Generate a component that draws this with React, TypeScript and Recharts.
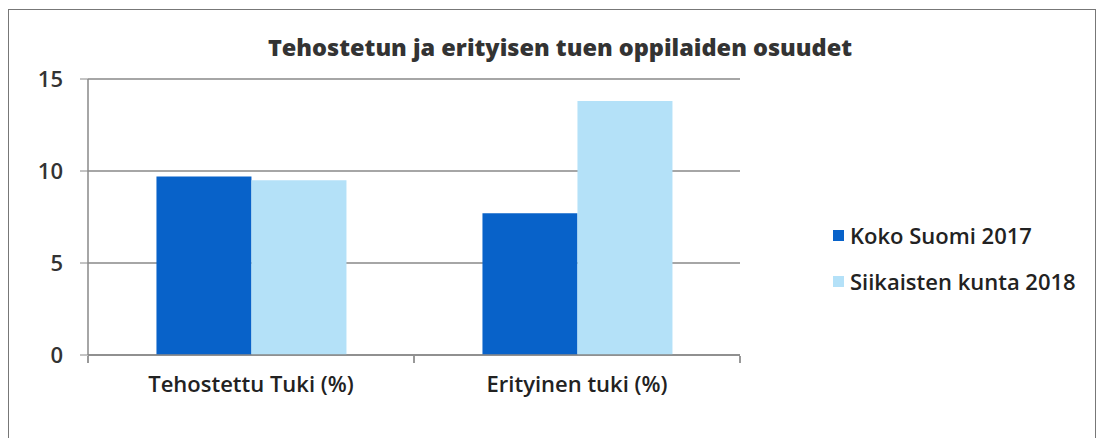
import React from 'react'
import { BarChart, Bar, XAxis, YAxis, CartesianGrid } from 'recharts'

const categories = ['Tehostettu Tuki (%)', 'Erityinen tuki (%)']
const kokoSuomi2017 = [9.7, 7.7]
const siikainen2018 = [9.5, 13.8]
const yTicks = [0, 5, 10, 15]

const seriesNames = ['Koko Suomi 2017', 'Siikaisten kunta 2018']
const colors = ['#0862c9', '#b4e1f8']

const data = categories.map((c, i) => ({
  name: c,
  koko: kokoSuomi2017[i],
  siik: siikainen2018[i],
}))

const font = '"Open Sans", sans-serif'

// category label, plus Excel-style tick marks on the band edges
function CatTick(props: any) {
  const { x, y, payload, index } = props
  const half = payload?.offset ?? 0
  const axisY = y - 20
  return (
    <g>
      <line x1={x - half} x2={x - half} y1={axisY} y2={axisY + 7} stroke="#777" strokeWidth={1.5} />
      {index === categories.length - 1 && (
        <line x1={x + half} x2={x + half} y1={axisY} y2={axisY + 7} stroke="#777" strokeWidth={1.5} />
      )}
      <text x={x} y={y} dy="0.71em" textAnchor="middle" fill="#222" fontSize={22} fontWeight={600} fontFamily={font}>
        {payload.value}
      </text>
    </g>
  )
}

function LegendBox() {
  return (
    <div style={{ position: 'absolute', left: 833, top: 212, fontFamily: font, fontSize: 22, fontWeight: 600, color: '#222' }}>
      {seriesNames.map((n, i) => (
        <div key={n} style={{ display: 'flex', alignItems: 'center', height: 46, whiteSpace: 'nowrap' }}>
          <span style={{ width: 11, height: 11, background: colors[i], marginRight: 6, display: 'inline-block' }} />
          {n}
        </div>
      ))}
    </div>
  )
}

export default function App() {
  return (
    <div style={{ position: 'absolute', left: 0, top: 0, width: 1103, height: 438, background: '#fff', overflow: 'hidden' }}>
      <div style={{ position: 'absolute', left: 8, top: 9, width: 1086, height: 460, border: '1.5px solid #777' }} />
      <div style={{ position: 'absolute', left: 0, width: 1120, top: 31, textAlign: 'center', fontFamily: font, fontWeight: 800, fontSize: 23.5, color: '#333' }}>
        Tehostetun ja erityisen tuen oppilaiden osuudet
      </div>
      <BarChart width={1103} height={438} data={data} margin={{ top: 79, right: 363, left: 0, bottom: 53 }} barCategoryGap="21%" barGap={0}
        style={{ position: 'absolute', left: 0, top: 0 }}>
        <CartesianGrid horizontal vertical={false} stroke="#888" strokeWidth={1.5} />
        <XAxis dataKey="name" tickLine={false} axisLine={{ stroke: '#888', strokeWidth: 1.5 }} height={30}
          tick={<CatTick />} tickMargin={15} interval={0} />
        <YAxis domain={[0, 15]} ticks={yTicks} width={88} tickSize={8} tickMargin={17}
          stroke="#888" axisLine={{ stroke: '#888', strokeWidth: 1.5 }}
          tick={{ fill: '#333', fontSize: 22, fontWeight: 600, fontFamily: font }} />
        <Bar dataKey="koko" name={seriesNames[0]} fill={colors[0]} isAnimationActive={false} />
        <Bar dataKey="siik" name={seriesNames[1]} fill={colors[1]} isAnimationActive={false} />
      </BarChart>
      <LegendBox />
    </div>
  )
}
